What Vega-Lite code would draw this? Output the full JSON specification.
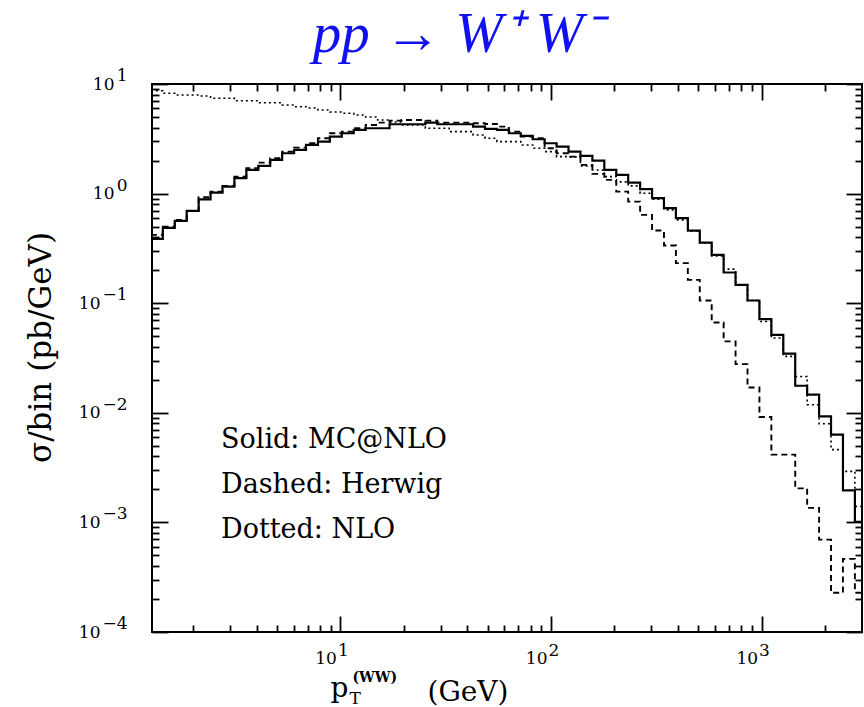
{
  "$schema": "https://vega.github.io/schema/vega-lite/v6.json",
  "width": 710,
  "height": 548,
  "autosize": {"type": "none"},
  "padding": {"left": 152, "top": 84, "right": 2, "bottom": 75},
  "background": "white",
  "data": {
    "values": [
      {"x": 1.259, "MC@NLO": 0.386, "Herwig": 0.420, "NLO": 8.69},
      {"x": 1.434, "MC@NLO": 0.487, "Herwig": 0.500, "NLO": 8.23},
      {"x": 1.634, "MC@NLO": 0.564, "Herwig": 0.576, "NLO": 7.94},
      {"x": 1.862, "MC@NLO": 0.696, "Herwig": 0.696, "NLO": 7.94},
      {"x": 2.122, "MC@NLO": 0.885, "Herwig": 0.927, "NLO": 7.77},
      {"x": 2.417, "MC@NLO": 1.021, "Herwig": 1.043, "NLO": 7.41},
      {"x": 2.754, "MC@NLO": 1.158, "Herwig": 1.175, "NLO": 7.41},
      {"x": 3.138, "MC@NLO": 1.382, "Herwig": 1.429, "NLO": 7.04},
      {"x": 3.575, "MC@NLO": 1.644, "Herwig": 1.704, "NLO": 7.04},
      {"x": 4.074, "MC@NLO": 1.789, "Herwig": 1.917, "NLO": 6.75},
      {"x": 4.642, "MC@NLO": 2.029, "Herwig": 2.102, "NLO": 6.75},
      {"x": 5.288, "MC@NLO": 2.335, "Herwig": 2.415, "NLO": 6.44},
      {"x": 6.026, "MC@NLO": 2.502, "Herwig": 2.627, "NLO": 6.21},
      {"x": 6.865, "MC@NLO": 2.779, "Herwig": 2.880, "NLO": 6.04},
      {"x": 7.822, "MC@NLO": 2.979, "Herwig": 3.199, "NLO": 5.79},
      {"x": 8.913, "MC@NLO": 3.308, "Herwig": 3.552, "NLO": 5.56},
      {"x": 10.155, "MC@NLO": 3.552, "Herwig": 3.675, "NLO": 5.41},
      {"x": 11.570, "MC@NLO": 3.808, "Herwig": 3.947, "NLO": 5.22},
      {"x": 13.183, "MC@NLO": 3.947, "Herwig": 4.230, "NLO": 5.00},
      {"x": 15.020, "MC@NLO": 3.947, "Herwig": 4.438, "NLO": 4.697},
      {"x": 17.113, "MC@NLO": 4.292, "Herwig": 4.629, "NLO": 4.505},
      {"x": 19.498, "MC@NLO": 4.292, "Herwig": 4.697, "NLO": 4.230},
      {"x": 22.215, "MC@NLO": 4.292, "Herwig": 4.697, "NLO": 4.230},
      {"x": 25.312, "MC@NLO": 4.438, "Herwig": 4.629, "NLO": 3.947},
      {"x": 28.840, "MC@NLO": 4.292, "Herwig": 4.438, "NLO": 3.947},
      {"x": 32.859, "MC@NLO": 4.292, "Herwig": 4.438, "NLO": 3.675},
      {"x": 37.438, "MC@NLO": 4.292, "Herwig": 4.438, "NLO": 3.675},
      {"x": 42.658, "MC@NLO": 4.081, "Herwig": 4.383, "NLO": 3.428},
      {"x": 48.602, "MC@NLO": 3.889, "Herwig": 4.318, "NLO": 3.199},
      {"x": 55.376, "MC@NLO": 3.808, "Herwig": 4.081, "NLO": 2.979},
      {"x": 63.096, "MC@NLO": 3.552, "Herwig": 3.675, "NLO": 2.979},
      {"x": 71.889, "MC@NLO": 3.357, "Herwig": 3.308, "NLO": 2.779},
      {"x": 81.907, "MC@NLO": 3.132, "Herwig": 3.199, "NLO": 2.594},
      {"x": 93.325, "MC@NLO": 2.880, "Herwig": 2.594, "NLO": 2.415},
      {"x": 106.33, "MC@NLO": 2.682, "Herwig": 2.335, "NLO": 2.175},
      {"x": 121.15, "MC@NLO": 2.415, "Herwig": 2.175, "NLO": 2.161},
      {"x": 138.04, "MC@NLO": 2.207, "Herwig": 1.827, "NLO": 1.789},
      {"x": 157.27, "MC@NLO": 1.999, "Herwig": 1.512, "NLO": 1.644},
      {"x": 179.19, "MC@NLO": 1.644, "Herwig": 1.333, "NLO": 1.429},
      {"x": 204.17, "MC@NLO": 1.481, "Herwig": 1.043, "NLO": 1.278},
      {"x": 232.63, "MC@NLO": 1.260, "Herwig": 0.845, "NLO": 1.175},
      {"x": 265.05, "MC@NLO": 1.097, "Herwig": 0.640, "NLO": 1.008},
      {"x": 301.99, "MC@NLO": 0.908, "Herwig": 0.460, "NLO": 0.889},
      {"x": 344.08, "MC@NLO": 0.736, "Herwig": 0.3357, "NLO": 0.710},
      {"x": 392.04, "MC@NLO": 0.597, "Herwig": 0.2320, "NLO": 0.576},
      {"x": 446.68, "MC@NLO": 0.460, "Herwig": 0.1634, "NLO": 0.457},
      {"x": 508.94, "MC@NLO": 0.3576, "Herwig": 0.1058, "NLO": 0.3553},
      {"x": 579.87, "MC@NLO": 0.2762, "Herwig": 0.0667, "NLO": 0.2705},
      {"x": 660.69, "MC@NLO": 0.1905, "Herwig": 0.0448, "NLO": 0.2046},
      {"x": 752.77, "MC@NLO": 0.1471, "Herwig": 0.0278, "NLO": 0.1471},
      {"x": 857.70, "MC@NLO": 0.1058, "Herwig": 0.01704, "NLO": 0.1058},
      {"x": 977.24, "MC@NLO": 0.0716, "Herwig": 0.00915, "NLO": 0.0681},
      {"x": 1113.4, "MC@NLO": 0.0515, "Herwig": 0.00415, "NLO": 0.0481},
      {"x": 1268.6, "MC@NLO": 0.0346, "Herwig": 0.00415, "NLO": 0.0327},
      {"x": 1445.4, "MC@NLO": 0.01766, "Herwig": 0.002046, "NLO": 0.02147},
      {"x": 1646.9, "MC@NLO": 0.01462, "Herwig": 0.001356, "NLO": 0.01185},
      {"x": 1876.4, "MC@NLO": 0.00927, "Herwig": 0.000697, "NLO": 0.00795},
      {"x": 2138.0, "MC@NLO": 0.00632, "Herwig": 0.000228, "NLO": 0.00461},
      {"x": 2435.9, "MC@NLO": 0.00196, "Herwig": 0.000465, "NLO": 0.00292},
      {"x": 2775.5, "MC@NLO": 0.00101, "Herwig": 0.000228, "NLO": 0.00140},
      {"x": 3162.3, "MC@NLO": 0.00101, "Herwig": 0.000228, "NLO": 0.00140}
    ]
  },
  "transform": [
    {"fold": ["MC@NLO", "Herwig", "NLO"], "as": ["series", "value"]}
  ],
  "layer": [
    {
      "mark": {"type": "line", "interpolate": "step-after", "clip": true, "color": "#000", "strokeJoin": "miter"},
      "encoding": {
        "x": {
          "field": "x", "type": "quantitative",
          "scale": {"type": "log", "domain": [1.274, 3000], "nice": false},
          "axis": {
            "orient": "bottom", "values": [10, 100, 1000], "tickSize": -16,
            "labelExpr": "'10'", "labelAlign": "right", "labelOffset": -4,
            "labelBaseline": "alphabetic", "labelPadding": 47,
            "title": "p", "titleX": 178, "titleY": 64, "titleAlign": "left",
            "titleBaseline": "alphabetic", "titleFontSize": 28
          }
        },
        "y": {
          "field": "value", "type": "quantitative",
          "scale": {"type": "log", "domain": [0.0001, 10], "nice": false},
          "axis": {
            "orient": "left", "values": [0.0001, 0.001, 0.01, 0.1, 1, 10], "tickSize": -16,
            "labelExpr": "'10'", "labelAlign": "right", "labelBaseline": "middle",
            "labelPadding": {"condition": {"test": "datum.value > 0.5", "value": 54}, "value": 68},
            "title": "σ/bin (pb/GeV)", "titleAngle": -90, "titleX": -102, "titleY": 263,
            "titleAlign": "center", "titleBaseline": "alphabetic", "titleFontSize": 31
          }
        },
        "strokeDash": {
          "field": "series", "type": "nominal",
          "scale": {"domain": ["MC@NLO", "Herwig", "NLO"], "range": [[1, 0], [6, 4], [2, 3]]},
          "legend": {
            "orient": "none", "legendX": 42, "legendY": 342, "title": null,
            "symbolOpacity": 0, "symbolSize": 0, "symbolStrokeWidth": 0,
            "labelOffset": 0, "padding": 0, "rowPadding": 17,
            "labelFont": "DejaVu Serif", "labelFontSize": 27, "labelColor": "#000", "labelLimit": 500,
            "labelExpr": "datum.label == 'MC@NLO' ? 'Solid: MC@NLO' : datum.label == 'Herwig' ? 'Dashed: Herwig' : 'Dotted: NLO'"
          }
        },
        "strokeWidth": {
          "field": "series", "type": "ordinal",
          "scale": {"domain": ["MC@NLO", "Herwig", "NLO"], "range": [2.2, 1.6, 2]},
          "legend": null
        }
      }
    },
    {
      "mark": {"type": "point", "opacity": 0},
      "encoding": {
        "x": {
          "field": "x", "type": "quantitative",
          "scale": {"type": "log", "domain": [1.274, 3000], "nice": false},
          "axis": {
            "orient": "bottom", "values": [10, 100, 1000], "ticks": false, "tickSize": 0,
            "labelExpr": "format(round(log(datum.value)/LN10), 'd')", "labelAlign": "left",
            "labelOffset": -3, "labelBaseline": "alphabetic", "labelPadding": 23,
            "title": "T", "titleX": 197, "titleY": 71, "titleAlign": "left",
            "titleBaseline": "alphabetic", "titleFontSize": 17
          }
        },
        "y": {
          "field": "value", "type": "quantitative",
          "scale": {"type": "log", "domain": [0.0001, 10], "nice": false},
          "axis": {
            "orient": "left", "values": [0.0001, 0.001, 0.01, 0.1, 1, 10], "ticks": false, "tickSize": 0,
            "labelExpr": "format(round(log(datum.value)/LN10), 'd')", "labelAlign": "right",
            "labelBaseline": "middle", "labelPadding": 25, "labelOffset": -8.5, "title": null
          }
        }
      }
    },
    {
      "mark": {"type": "point", "opacity": 0},
      "encoding": {
        "x": {
          "field": "x", "type": "quantitative",
          "scale": {"type": "log", "domain": [1.274, 3000], "nice": false},
          "axis": {
            "orient": "bottom",
            "values": [2, 3, 4, 5, 6, 7, 8, 9, 20, 30, 40, 50, 60, 70, 80, 90, 200, 300, 400, 500, 600, 700, 800, 900, 2000],
            "tickSize": -7, "labels": false,
            "title": "(WW)", "titleX": 200, "titleY": 49, "titleAlign": "left",
            "titleBaseline": "alphabetic", "titleFontSize": 14, "titleFontWeight": "bold"
          }
        },
        "y": {
          "field": "value", "type": "quantitative",
          "scale": {"type": "log", "domain": [0.0001, 10], "nice": false},
          "axis": {
            "orient": "left",
            "values": [0.0002, 0.0003, 0.0004, 0.0005, 0.0006, 0.0007, 0.0008, 0.0009, 0.002, 0.003, 0.004, 0.005, 0.006, 0.007, 0.008, 0.009, 0.02, 0.03, 0.04, 0.05, 0.06, 0.07, 0.08, 0.09, 0.2, 0.3, 0.4, 0.5, 0.6, 0.7, 0.8, 0.9, 2, 3, 4, 5, 6, 7, 8, 9],
            "tickSize": -7, "labels": false, "title": null
          }
        }
      }
    },
    {
      "mark": {"type": "point", "opacity": 0},
      "encoding": {
        "x": {
          "field": "x", "type": "quantitative",
          "scale": {"type": "log", "domain": [1.274, 3000], "nice": false},
          "axis": {
            "orient": "top", "values": [10, 100, 1000], "tickSize": -16, "labels": false,
            "title": "pp → W⁺ W⁻", "titleX": 305, "titleY": -33, "titleAlign": "center",
            "titleBaseline": "alphabetic", "titleFont": "Liberation Serif", "titleFontStyle": "italic",
            "titleFontSize": 57, "titleColor": "#1010f0"
          }
        },
        "y": {
          "field": "value", "type": "quantitative",
          "scale": {"type": "log", "domain": [0.0001, 10], "nice": false},
          "axis": {
            "orient": "right", "values": [0.0001, 0.001, 0.01, 0.1, 1, 10], "tickSize": -16,
            "labels": false,
            "title": "(GeV)", "titleAngle": 0, "titleX": -435, "titleY": 616, "titleAlign": "left",
            "titleBaseline": "alphabetic", "titleFontSize": 28
          }
        }
      }
    },
    {
      "mark": {"type": "point", "opacity": 0},
      "encoding": {
        "x": {
          "field": "x", "type": "quantitative",
          "scale": {"type": "log", "domain": [1.274, 3000], "nice": false},
          "axis": {
            "orient": "top",
            "values": [2, 3, 4, 5, 6, 7, 8, 9, 20, 30, 40, 50, 60, 70, 80, 90, 200, 300, 400, 500, 600, 700, 800, 900, 2000],
            "tickSize": -7, "labels": false, "title": null
          }
        },
        "y": {
          "field": "value", "type": "quantitative",
          "scale": {"type": "log", "domain": [0.0001, 10], "nice": false},
          "axis": {
            "orient": "right",
            "values": [0.0002, 0.0003, 0.0004, 0.0005, 0.0006, 0.0007, 0.0008, 0.0009, 0.002, 0.003, 0.004, 0.005, 0.006, 0.007, 0.008, 0.009, 0.02, 0.03, 0.04, 0.05, 0.06, 0.07, 0.08, 0.09, 0.2, 0.3, 0.4, 0.5, 0.6, 0.7, 0.8, 0.9, 2, 3, 4, 5, 6, 7, 8, 9],
            "tickSize": -7, "labels": false, "title": null
          }
        }
      }
    }
  ],
  "resolve": {"axis": {"x": "independent", "y": "independent"}},
  "config": {
    "view": {"stroke": "#000", "strokeWidth": 2},
    "axis": {
      "grid": false, "domain": false,
      "tickColor": "#000", "tickWidth": 1.8,
      "labelColor": "#000", "labelFont": "DejaVu Serif", "labelFontSize": 17,
      "labelFlush": false, "labelOverlap": false, "labelBound": false,
      "titleColor": "#000", "titleFont": "DejaVu Serif", "titleFontWeight": "normal"
    }
  }
}
